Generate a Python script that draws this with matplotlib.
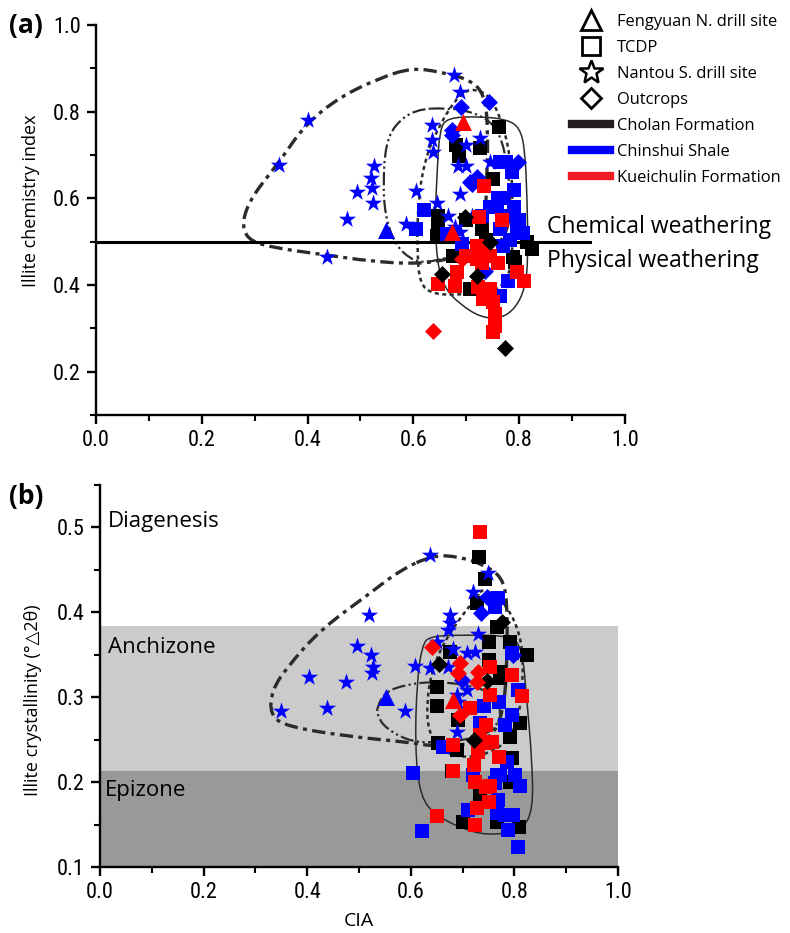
import numpy as np
import matplotlib
matplotlib.use("Agg")
import matplotlib.pyplot as plt
from matplotlib import font_manager as fm
from matplotlib.lines import Line2D
from matplotlib.path import Path
from matplotlib.patches import PathPatch
from matplotlib.ticker import MultipleLocator, FormatStrFormatter

# ── colours / fonts ───────────────────────────────────────────────────────────
BLACK = "#000000"
BLUE  = "#0000ff"
RED   = "#ff0000"
CNT   = "#2b2b2b"

_have = {f.name for f in fm.fontManager.ttflist}
_narrow = [n for n in ("Liberation Sans Narrow", "DejaVu Sans Condensed",
                       "Roboto Condensed", "Open Sans Condensed") if n in _have]
TICK_FONT = _narrow + ["Liberation Sans", "DejaVu Sans"]
TEXT_FONT = ["Open Sans", "DejaVu Sans"]

# ── PANEL (a) DATA: CIA vs illite chemistry index ────────────────────────────
a_cho_tcdp_x = [0.762, 0.68, 0.726, 0.686, 0.75, 0.647, 0.647, 0.645, 0.737, 0.824,
                0.815, 0.675, 0.788, 0.792, 0.707, 0.73, 0.70, 0.66]
a_cho_tcdp_y = [0.765, 0.724, 0.717, 0.697, 0.644, 0.56, 0.53, 0.514, 0.505, 0.483,
                0.499, 0.467, 0.464, 0.453, 0.391, 0.53, 0.55, 0.51]
a_cho_out_x = [0.698, 0.745, 0.654, 0.72, 0.773]
a_cho_out_y = [0.556, 0.50, 0.425, 0.42, 0.255]

a_chi_star_x = [0.40, 0.346, 0.525, 0.52, 0.522, 0.494, 0.524, 0.474, 0.437, 0.605,
                0.586, 0.635, 0.635, 0.637, 0.645, 0.677, 0.688, 0.70, 0.726, 0.684,
                0.70, 0.745, 0.688, 0.679, 0.688, 0.665, 0.71]
a_chi_star_y = [0.78, 0.676, 0.674, 0.648, 0.623, 0.614, 0.59, 0.552, 0.464, 0.616,
                0.54, 0.77, 0.735, 0.706, 0.59, 0.885, 0.846, 0.724, 0.74, 0.674,
                0.674, 0.683, 0.609, 0.533, 0.522, 0.56, 0.56]
a_chi_tcdp_x = [0.62, 0.605, 0.776, 0.786, 0.764, 0.745, 0.758, 0.776, 0.796, 0.807,
                0.764, 0.783, 0.663, 0.692, 0.77, 0.779, 0.764, 0.76, 0.79, 0.80,
                0.77, 0.73, 0.79]
a_chi_tcdp_y = [0.572, 0.53, 0.683, 0.66, 0.683, 0.58, 0.58, 0.56, 0.536, 0.52,
                0.53, 0.505, 0.517, 0.494, 0.49, 0.409, 0.375, 0.60, 0.58, 0.55,
                0.60, 0.56, 0.62]
a_chi_out_x = [0.69, 0.743, 0.673, 0.673, 0.707, 0.71, 0.798, 0.735, 0.72]
a_chi_out_y = [0.81, 0.823, 0.758, 0.747, 0.637, 0.632, 0.683, 0.432, 0.65]
a_chi_fy_x = [0.548]
a_chi_fy_y = [0.526]

a_kue_tcdp_x = [0.733, 0.724, 0.767, 0.72, 0.732, 0.745, 0.72, 0.70, 0.682, 0.647,
                0.679, 0.722, 0.745, 0.796, 0.81, 0.732, 0.75, 0.754, 0.754, 0.75,
                0.739, 0.73, 0.76]
a_kue_tcdp_y = [0.628, 0.556, 0.55, 0.49, 0.478, 0.467, 0.46, 0.467, 0.43, 0.402,
                0.398, 0.395, 0.391, 0.43, 0.409, 0.368, 0.361, 0.333, 0.306, 0.292,
                0.384, 0.45, 0.45]
a_kue_out_x = [0.692, 0.637]
a_kue_out_y = [0.46, 0.294]
a_kue_fy_x = [0.694, 0.673]
a_kue_fy_y = [0.777, 0.522]

# envelopes (a) — control vertices of closed outlines
a_env1_x = [0.597, 0.650, 0.707, 0.735, 0.741, 0.739, 0.735, 0.722, 0.669, 0.607,
            0.518, 0.437, 0.329, 0.285, 0.276, 0.295, 0.346, 0.395, 0.461, 0.537]
a_env1_y = [0.901, 0.892, 0.874, 0.839, 0.759, 0.644, 0.529, 0.478, 0.460, 0.448,
            0.455, 0.469, 0.487, 0.506, 0.547, 0.605, 0.683, 0.770, 0.834, 0.878]
a_env2_x = [0.664, 0.716, 0.754, 0.773, 0.783, 0.783, 0.764, 0.688, 0.622, 0.594,
            0.565, 0.546, 0.543, 0.548, 0.565, 0.603]
a_env2_y = [0.809, 0.798, 0.770, 0.713, 0.621, 0.540, 0.494, 0.471, 0.450, 0.460,
            0.494, 0.563, 0.644, 0.724, 0.770, 0.805]
a_env3_x = [0.679, 0.707, 0.745, 0.773, 0.786, 0.788, 0.786, 0.764, 0.688, 0.637,
            0.612, 0.607, 0.609, 0.622, 0.645]
a_env3_y = [0.828, 0.855, 0.839, 0.759, 0.667, 0.552, 0.437, 0.386, 0.377, 0.379,
            0.402, 0.483, 0.598, 0.690, 0.759]
a_env4_x = [0.664, 0.726, 0.777, 0.801, 0.811, 0.815, 0.817, 0.811, 0.792, 0.764,
            0.726, 0.688, 0.660, 0.645, 0.641, 0.645, 0.650]
a_env4_y = [0.786, 0.789, 0.782, 0.763, 0.713, 0.598, 0.460, 0.391, 0.345, 0.322,
            0.326, 0.356, 0.391, 0.448, 0.552, 0.667, 0.759]

# ── PANEL (b) DATA: CIA vs illite crystallinity ──────────────────────────────
b_cho_tcdp_x = [0.732, 0.743, 0.728, 0.766, 0.751, 0.792, 0.824, 0.676, 0.751, 0.772,
                0.772, 0.65, 0.65, 0.691, 0.811, 0.792, 0.653, 0.689, 0.795, 0.792,
                0.734, 0.766, 0.701, 0.809, 0.68]
b_cho_tcdp_y = [0.465, 0.439, 0.411, 0.382, 0.365, 0.365, 0.35, 0.353, 0.343, 0.329,
                0.322, 0.312, 0.289, 0.273, 0.269, 0.253, 0.246, 0.238, 0.228, 0.20,
                0.185, 0.153, 0.153, 0.147, 0.213]
b_cho_out_x = [0.776, 0.654, 0.747, 0.722]
b_cho_out_y = [0.388, 0.339, 0.319, 0.249]

b_chi_star_x = [0.637, 0.519, 0.496, 0.523, 0.527, 0.525, 0.403, 0.475, 0.349, 0.438,
                0.589, 0.608, 0.637, 0.749, 0.72, 0.676, 0.676, 0.672, 0.73, 0.65,
                0.681, 0.708, 0.724, 0.672, 0.689, 0.708, 0.691, 0.689]
b_chi_star_y = [0.467, 0.396, 0.36, 0.349, 0.335, 0.328, 0.324, 0.318, 0.283, 0.287,
                0.283, 0.336, 0.334, 0.446, 0.424, 0.396, 0.387, 0.379, 0.374, 0.365,
                0.357, 0.352, 0.353, 0.335, 0.302, 0.308, 0.294, 0.259]
b_chi_tcdp_x = [0.768, 0.763, 0.795, 0.807, 0.77, 0.741, 0.795, 0.782, 0.734, 0.662,
                0.786, 0.604, 0.766, 0.772, 0.801, 0.763, 0.811, 0.72, 0.768, 0.71,
                0.766, 0.782, 0.797, 0.622, 0.788, 0.807]
b_chi_tcdp_y = [0.416, 0.406, 0.352, 0.308, 0.294, 0.289, 0.279, 0.267, 0.27, 0.241,
                0.224, 0.211, 0.208, 0.208, 0.208, 0.199, 0.195, 0.208, 0.179, 0.167,
                0.164, 0.161, 0.161, 0.142, 0.144, 0.124]
b_chi_out_x = [0.747, 0.736, 0.797, 0.699]
b_chi_out_y = [0.418, 0.399, 0.349, 0.32]
b_chi_fy_x = [0.552]
b_chi_fy_y = [0.30]

b_kue_tcdp_x = [0.734, 0.753, 0.795, 0.753, 0.815, 0.714, 0.745, 0.734, 0.757, 0.743,
                0.681, 0.73, 0.77, 0.722, 0.681, 0.724, 0.753, 0.745, 0.751, 0.728,
                0.65, 0.724]
b_kue_tcdp_y = [0.494, 0.335, 0.326, 0.302, 0.301, 0.287, 0.267, 0.255, 0.247, 0.246,
                0.244, 0.235, 0.229, 0.22, 0.213, 0.20, 0.195, 0.194, 0.176, 0.169,
                0.16, 0.15]
b_kue_out_x = [0.641, 0.695, 0.691, 0.73, 0.728, 0.695]
b_kue_out_y = [0.359, 0.34, 0.328, 0.329, 0.318, 0.279]
b_kue_fy_x = [0.681]
b_kue_fy_y = [0.296]

# envelopes (b)
b_env1_x = [0.643, 0.695, 0.743, 0.776, 0.786, 0.786, 0.782, 0.763, 0.714, 0.643,
            0.593, 0.488, 0.361, 0.328, 0.332, 0.361, 0.425, 0.521, 0.579]
b_env1_y = [0.467, 0.465, 0.455, 0.441, 0.414, 0.355, 0.296, 0.255, 0.244, 0.242,
            0.247, 0.253, 0.265, 0.279, 0.308, 0.335, 0.379, 0.422, 0.449]
b_env2_x = [0.535, 0.55, 0.593, 0.643, 0.705, 0.753, 0.772, 0.772, 0.753, 0.705,
            0.637, 0.593, 0.55, 0.535]
b_env2_y = [0.288, 0.306, 0.315, 0.318, 0.315, 0.306, 0.291, 0.273, 0.258, 0.249,
            0.246, 0.249, 0.264, 0.279]
b_env3_x = [0.739, 0.772, 0.801, 0.817, 0.815, 0.807, 0.786, 0.739, 0.695, 0.656,
            0.633, 0.631, 0.641, 0.666, 0.699, 0.728]
b_env3_y = [0.428, 0.416, 0.391, 0.355, 0.308, 0.273, 0.246, 0.231, 0.229, 0.238,
            0.261, 0.296, 0.332, 0.367, 0.396, 0.418]
b_env4_x = [0.637, 0.714, 0.792, 0.815, 0.824, 0.834, 0.836, 0.815, 0.772, 0.720,
            0.651, 0.618, 0.608, 0.612, 0.622]
b_env4_y = [0.372, 0.373, 0.372, 0.358, 0.296, 0.226, 0.167, 0.144, 0.138, 0.140,
            0.159, 0.182, 0.241, 0.320, 0.361]

# zone limits for (b)
EPIZONE_TOP = 0.213
ANCHIZONE_TOP = 0.383

# ── STYLES ────────────────────────────────────────────────────────────────────
MARKERS = {"fy": ("^", 150), "tcdp": ("s", 95), "star": ("*", 170), "out": ("D", 75)}
ENV_STYLES = [
    dict(lw=2.4, ls=(0, (4, 1.6, 1.2, 1.6))),
    dict(lw=1.6, ls=(0, (6, 1.5, 1, 1.5, 1, 1.5))),
    dict(lw=1.8, ls=(0, (1.6, 1.4))),
    dict(lw=1.1, ls="-"),
]


def smooth_outline(xs, ys):
    # closed quadratic-bezier path using the vertices as control points
    pts = np.column_stack([xs, ys])
    n = len(pts)
    mids = (pts + np.roll(pts, -1, axis=0)) / 2
    verts = [mids[-1]]
    codes = [Path.MOVETO]
    for i in range(n):
        verts += [pts[i], mids[i]]
        codes += [Path.CURVE3, Path.CURVE3]
    return Path(verts, codes)


def style_axis(ax):
    for s in ("top", "right"):
        ax.spines[s].set_visible(False)
    for s in ("left", "bottom"):
        ax.spines[s].set_linewidth(1.7)
    ax.tick_params(which="major", direction="out", length=6.5, width=1.7,
                   labelsize=16, pad=4.5)
    ax.tick_params(which="minor", direction="out", length=4, width=1.5)
    for lab in ax.get_xticklabels() + ax.get_yticklabels():
        lab.set_family(TICK_FONT)


def draw_panel(ax, groups, envs):
    for (ex, ey), st in zip(envs, ENV_STYLES):
        ax.add_patch(PathPatch(smooth_outline(ex, ey), fill=False, edgecolor=CNT,
                               lw=st["lw"], linestyle=st["ls"], zorder=2))
    for x, y, color, kind in groups:
        m, s = MARKERS[kind]
        ax.scatter(x, y, marker=m, s=s, c=color, linewidths=0, zorder=3)


fig = plt.figure(figsize=(7.9, 9.33), dpi=100)

# ── (a) ───────────────────────────────────────────────────────────────────────
ax1 = fig.add_axes([0.1215, 0.5552, 0.6696, 0.418])
groups_a = [
    (a_cho_tcdp_x, a_cho_tcdp_y, BLACK, "tcdp"),
    (a_chi_tcdp_x, a_chi_tcdp_y, BLUE, "tcdp"),
    (a_chi_star_x, a_chi_star_y, BLUE, "star"),
    (a_chi_out_x, a_chi_out_y, BLUE, "out"),
    (a_chi_fy_x, a_chi_fy_y, BLUE, "fy"),
    (a_kue_tcdp_x, a_kue_tcdp_y, RED, "tcdp"),
    (a_cho_out_x, a_cho_out_y, BLACK, "out"),
    (a_kue_out_x, a_kue_out_y, RED, "out"),
    (a_kue_fy_x, a_kue_fy_y, RED, "fy"),
]
envs_a = [(a_env1_x, a_env1_y), (a_env2_x, a_env2_y),
          (a_env3_x, a_env3_y), (a_env4_x, a_env4_y)]
draw_panel(ax1, groups_a, envs_a)
ax1.plot([0, 0.934], [0.5, 0.5], color=BLACK, lw=2.2, zorder=2.5, clip_on=False)
ax1.text(0.853, 0.533, "Chemical weathering", fontsize=16.5, family=TEXT_FONT,
         va="center", ha="left", clip_on=False)
ax1.text(0.853, 0.455, "Physical weathering", fontsize=16.5, family=TEXT_FONT,
         va="center", ha="left", clip_on=False)
ax1.set_xlim(0, 1.0)
ax1.set_ylim(0.1, 1.0)
ax1.xaxis.set_major_locator(MultipleLocator(0.2))
ax1.xaxis.set_minor_locator(MultipleLocator(0.1))
ax1.yaxis.set_major_locator(MultipleLocator(0.2))
ax1.yaxis.set_minor_locator(MultipleLocator(0.1))
ax1.xaxis.set_major_formatter(FormatStrFormatter("%.1f"))
ax1.yaxis.set_major_formatter(FormatStrFormatter("%.1f"))
ax1.set_ylabel("Illite chemistry index", fontsize=13, family=TEXT_FONT)
ax1.yaxis.set_label_coords(-0.105, 0.55)
style_axis(ax1)

# ── (b) ───────────────────────────────────────────────────────────────────────
ax2 = fig.add_axes([0.1266, 0.0707, 0.6557, 0.410])
ax2.axhspan(0.1, EPIZONE_TOP, color="#999999", lw=0, zorder=0)
ax2.axhspan(EPIZONE_TOP, ANCHIZONE_TOP, color="#cbcbcb", lw=0, zorder=0)
groups_b = [
    (b_cho_tcdp_x, b_cho_tcdp_y, BLACK, "tcdp"),
    (b_chi_tcdp_x, b_chi_tcdp_y, BLUE, "tcdp"),
    (b_chi_star_x, b_chi_star_y, BLUE, "star"),
    (b_chi_out_x, b_chi_out_y, BLUE, "out"),
    (b_chi_fy_x, b_chi_fy_y, BLUE, "fy"),
    (b_kue_tcdp_x, b_kue_tcdp_y, RED, "tcdp"),
    (b_cho_out_x, b_cho_out_y, BLACK, "out"),
    (b_kue_out_x, b_kue_out_y, RED, "out"),
    (b_kue_fy_x, b_kue_fy_y, RED, "fy"),
]
envs_b = [(b_env1_x, b_env1_y), (b_env2_x, b_env2_y),
          (b_env3_x, b_env3_y), (b_env4_x, b_env4_y)]
draw_panel(ax2, groups_b, envs_b)
ax2.text(0.015, 0.506, "Diagenesis", fontsize=16, family=TEXT_FONT, va="center")
ax2.text(0.015, 0.358, "Anchizone", fontsize=16, family=TEXT_FONT, va="center")
ax2.text(0.01, 0.19, "Epizone", fontsize=16, family=TEXT_FONT, va="center")
ax2.set_xlim(0, 1.0)
ax2.set_ylim(0.1, 0.55)
ax2.xaxis.set_major_locator(MultipleLocator(0.2))
ax2.xaxis.set_minor_locator(MultipleLocator(0.1))
ax2.yaxis.set_major_locator(MultipleLocator(0.1))
ax2.yaxis.set_minor_locator(MultipleLocator(0.05))
ax2.xaxis.set_major_formatter(FormatStrFormatter("%.1f"))
ax2.yaxis.set_major_formatter(FormatStrFormatter("%.1f"))
ax2.set_ylabel("Illite crystallinity (°△2θ)", fontsize=13, family=TEXT_FONT)
ax2.yaxis.set_label_coords(-0.112, 0.437)
ax2.set_xlabel("CIA", fontsize=14, family=TEXT_FONT, labelpad=6)
style_axis(ax2)

# panel letters
fig.text(0.012, 0.973, "(a)", fontsize=19, fontweight="bold", family=TEXT_FONT, va="center")
fig.text(0.012, 0.468, "(b)", fontsize=19, fontweight="bold", family=TEXT_FONT, va="center")

# ── legend ────────────────────────────────────────────────────────────────────
handles = [
    Line2D([], [], ls="none", marker="^", ms=15, mfc="none", mec=BLACK, mew=2),
    Line2D([], [], ls="none", marker="s", ms=13, mfc="none", mec=BLACK, mew=2),
    Line2D([], [], ls="none", marker="*", ms=18, mfc="none", mec=BLACK, mew=1.8),
    Line2D([], [], ls="none", marker="D", ms=10, mfc="none", mec=BLACK, mew=2),
    Line2D([], [], color="#231f20", lw=6),
    Line2D([], [], color=BLUE, lw=6),
    Line2D([], [], color="#ed1c24", lw=6),
]
labels = ["Fengyuan N. drill site", "TCDP", "Nantou S. drill site", "Outcrops",
          "Cholan Formation", "Chinshui Shale", "Kueichulin Formation"]
fig.legend(handles, labels, loc="upper left", bbox_to_anchor=(0.716, 0.992),
           frameon=False, prop={"family": TEXT_FONT, "size": 11.9},
           handlelength=2.3, handletextpad=0.4, labelspacing=0.6, borderaxespad=0)

fig.savefig("out.png", dpi=100)
